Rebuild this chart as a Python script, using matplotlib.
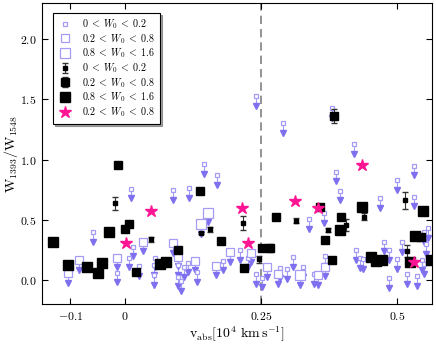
import matplotlib
matplotlib.use('Agg')
import matplotlib.pyplot as plt
import numpy as np

plt.rcParams['font.family'] = 'serif'
plt.rcParams['font.serif'] = ['cmr10', 'DejaVu Serif']
plt.rcParams['mathtext.fontset'] = 'cm'
plt.rcParams['axes.unicode_minus'] = False
plt.rcParams['axes.formatter.use_mathtext'] = True

# upper limits (open squares with arrow), by W0 bin
ul_small_x = [0.012, -0.059, -0.014, 0.007, 0.014, 0.026, 0.146, 0.169, 0.089, 0.118,
              0.056, 0.054, 0.054, 0.098, 0.108, 0.115, 0.098, 0.103, 0.132, 0.180,
              0.212, 0.226, 0.240, 0.251, 0.284, 0.298, 0.308, 0.327, 0.347, 0.368,
              0.338, 0.366, 0.421, 0.388, 0.395, 0.530, 0.500, 0.531, 0.469, 0.556,
              0.550, 0.475, 0.509, 0.553, 0.425, 0.485, 0.431, 0.438, 0.500, 0.545,
              0.550, 0.485, 0.518, 0.536, 0.240, 0.291, 0.381]
ul_small_y = [0.76, 0.40, 0.06, 0.185, 0.276, 0.116, 0.963, 0.871, 0.744, 0.761,
              0.185, 0.124, 0.041, 0.124, 0.105, 0.144, 0.028, -0.008, 0.066, 0.16,
              0.249, 0.185, 0.05, 0.019, 0.097, 0.091, 0.188, 0.105, 0.05, 0.199,
              0.504, 0.553, 1.126, 0.899, 0.741, 0.949, 0.832, 0.691, 0.678, 0.429,
              0.40, 0.318, 0.313, 0.296, 0.249, 0.249, 0.18, 0.172, 0.172, 0.166,
              0.133, 0.014, 0.05, 0.033, 1.527, 1.305, 1.425]
ul_med_x = [0.033, -0.085, -0.105, -0.014, 0.089, 0.192, 0.097, 0.129, 0.168, 0.231,
            0.260, 0.281, 0.355, 0.368]
ul_med_y = [0.318, 0.166, 0.055, 0.185, 0.304, 0.232, 0.193, 0.16, 0.119, 0.227,
            0.105, 0.047, 0.041, 0.11]
ul_large_x = [0.152, 0.140, 0.321]
ul_large_y = [0.559, 0.465, 0.041]

# detections (black squares)
det_small_x = [-0.018, 0.140, 0.156, 0.048, 0.216, 0.314, 0.246, 0.372, 0.515, 0.439, 0.406, 0.518]
det_small_y = [0.636, 0.393, 0.42, 0.338, 0.473, 0.492, 0.172, 0.415, 0.664, 0.525, 0.456, 0.243]
det_small_err = [0.055, 0.01, 0.02, 0.02, 0.055, 0.02, 0.03, 0.02, 0.07, 0.03, 0.05, 0.05]
det_med_x = [-0.013, 0.007, 0.0006, 0.020, 0.138, 0.176, 0.098, 0.278, 0.358, 0.251,
             0.266, 0.219, 0.368, 0.396, 0.380, 0.543, 0.383]
det_med_y = [0.955, 0.465, 0.423, 0.069, 0.741, 0.321, 0.249, 0.52, 0.603, 0.268,
             0.268, 0.102, 0.332, 0.525, 0.166, 0.354, 1.363]
det_med_err = [0.02, 0.02, 0.02, 0.02, 0.02, 0.02, 0.02, 0.02, 0.02, 0.02,
               0.035, 0.02, 0.02, 0.02, 0.02, 0.02, 0.06]
det_large_x = [-0.029, -0.133, -0.105, -0.070, -0.050, -0.043, 0.064, 0.075, 0.436, 0.547,
               0.395, 0.532, 0.452, 0.461, 0.472, 0.523, 0.562]
det_large_y = [0.398, 0.313, 0.127, 0.105, 0.055, 0.138, 0.133, 0.152, 0.603, 0.573,
               0.415, 0.365, 0.188, 0.158, 0.166, 0.147, 0.166]

# stars
star_x = [0.002, 0.048, 0.215, 0.226, 0.312, 0.355, 0.436, 0.531]
star_y = [0.307, 0.575, 0.595, 0.31, 0.658, 0.595, 0.955, 0.147]

lab_s = r'$0\;<\;W_0\;<\;0.2$'
lab_m = r'$0.2\;<\;W_0\;<\;0.8$'
lab_l = r'$0.8\;<\;W_0\;<\;1.6$'

arrow_len = 0.08
ul_edge = '#a49cf4'
ul_arrow = '#7f70f0'

fig = plt.figure(figsize=(4.36, 3.46), dpi=100)
ax = fig.add_axes([0.096, 0.121, 0.895, 0.870])

ax.axvline(0.25, color='gray', ls='--', lw=1.2, dashes=(5, 3), zorder=1)

handles = []
# upper limits: arrows first, then squares
for xs, ys, ms, lab in [(ul_small_x, ul_small_y, 3.5, lab_s),
                        (ul_med_x, ul_med_y, 5.5, lab_m),
                        (ul_large_x, ul_large_y, 7.5, lab_l)]:
    xs = np.array(xs)
    ys = np.array(ys)
    ax.vlines(xs, ys - arrow_len, ys, color=ul_edge, lw=0.8, zorder=2)
    ax.plot(xs, ys - arrow_len, 'v', color=ul_arrow, ms=4, mec=ul_arrow, ls='none', zorder=2)
    h, = ax.plot(xs, ys, 's', mfc='white', mec=ul_edge, mew=0.9, ms=ms, ls='none', zorder=3, label=lab)
    handles.append(h)

h = ax.errorbar(det_small_x, det_small_y, yerr=det_small_err, fmt='s', color='black', ms=3,
                ecolor='#333333', elinewidth=0.8, capsize=2.5, zorder=4, label=lab_s)
handles.append(h)
h = ax.errorbar(det_med_x, det_med_y, yerr=det_med_err, fmt='s', color='black', ms=5.5,
                ecolor='#333333', elinewidth=0.8, capsize=2.5, zorder=4, label=lab_m)
handles.append(h)
h, = ax.plot(det_large_x, det_large_y, 's', color='black', ms=7.5, ls='none', zorder=4, label=lab_l)
handles.append(h)
h, = ax.plot(star_x, star_y, '*', color='#ff1493', mec='#ff1493', ms=9, ls='none', zorder=5, label=lab_m)
handles.append(h)

ax.set_xlim(-0.1526, 0.564)
ax.set_ylim(-0.2, 2.3)
ax.set_xticks([-0.1, 0, 0.25, 0.5])
ax.set_xticklabels([r'$-0.1$', r'$0$', r'$0.25$', r'$0.5$'])
ax.set_yticks([0.0, 0.5, 1.0, 1.5, 2.0])
ax.set_yticklabels([r'$0.0$', r'$0.5$', r'$1.0$', r'$1.5$', r'$2.0$'])
ax.tick_params(direction='in', top=True, right=True, labelsize=8.5, length=4, pad=4)

ax.set_xlabel(r'$\mathrm{v_{abs}[10^4\ km\,s^{-1}]}$', fontsize=10, labelpad=2)
ax.set_ylabel(r'$\mathrm{W_{1393}/W_{1548}}$', fontsize=10, labelpad=0)

leg = ax.legend(handles=handles, labels=[hh.get_label() for hh in handles],
                loc='upper left', numpoints=1, fontsize=7.2, shadow=True, fancybox=False,
                framealpha=1, edgecolor='black', borderpad=0.45, labelspacing=0.1,
                handlelength=1.6, handletextpad=0.9, bbox_to_anchor=(0.015, 0.985))
leg.get_frame().set_linewidth(0.8)

fig.savefig('out.png', dpi=100)
